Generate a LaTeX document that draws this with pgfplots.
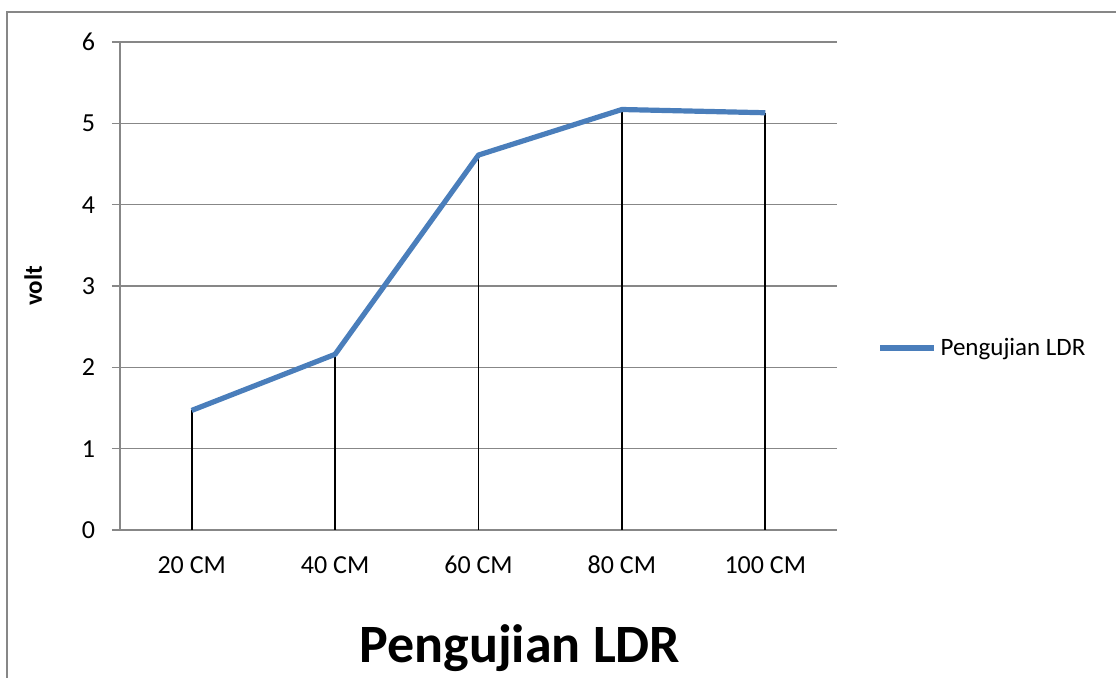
\documentclass[border=0pt]{standalone}
\usepackage{fontspec}
\setmainfont{Carlito}
\usepackage{pgfplots}
\pgfplotsset{compat=1.18}
\definecolor{ldrblue}{HTML}{4A7EBB}
\definecolor{gridgray}{HTML}{878787}
\begin{document}
\begin{tikzpicture}[x=1pt,y=1pt]
\path[use as bounding box, clip] (-60,-74) rectangle (498,265);
% chart frame
\draw[gridgray, line width=1pt] (-56.25,-100) -- (-56.25,259) -- (520,259);
\begin{axis}[
  at={(0,0)}, anchor=south west,
  width=358.5pt, height=244pt, scale only axis,
  xmin=0.5, xmax=5.5, ymin=0, ymax=6,
  xtick={1,2,3,4,5},
  xticklabels={20 CM,40 CM,60 CM,80 CM,100 CM},
  ytick={0,1,2,3,4,5,6},
  axis lines*=left,
  axis line style={gridgray, line width=0.7pt},
  ymajorgrids=true,
  grid style={gridgray, line width=0.7pt},
  major x tick style={draw=none},
  major y tick style={gridgray, line width=0.7pt},
  tick align=outside,
  major tick length=4pt,
  /pgf/number format/assume math mode=true,
  tick label style={font=\fontsize{13}{15}\selectfont},
  xticklabel style={yshift=-5pt, text height=9pt, text depth=2pt},
  yticklabel style={xshift=-5pt},
  ylabel={\textbf{volt}},
  ylabel style={font=\fontsize{12.5}{15}\selectfont, at={(axis description cs:-0.121,0.5)}, anchor=center},
  legend style={draw=none, fill=none, at={(1.0558,0.373)}, anchor=west,
    font=\fontsize{12.5}{15}\selectfont, inner sep=0pt},
  legend cell align=left,
  legend image code/.code={\draw[#1] (0pt,0pt) -- (27pt,0pt);},
]
\addplot[ycomb, black, line width=0.9pt, forget plot]
coordinates {(1,1.47)(2,2.16)(3,4.61)(4,5.17)(5,5.13)};
\addplot[ldrblue, line width=2.6pt, line join=round]
coordinates {(1,1.47)(2,2.16)(3,4.61)(4,5.17)(5,5.13)};
\legend{Pengujian LDR}
\end{axis}
\node[anchor=base, font=\bfseries\fontsize{27}{32}\selectfont] at (200,-66.5) {Pengujian LDR};
\end{tikzpicture}
\end{document}
